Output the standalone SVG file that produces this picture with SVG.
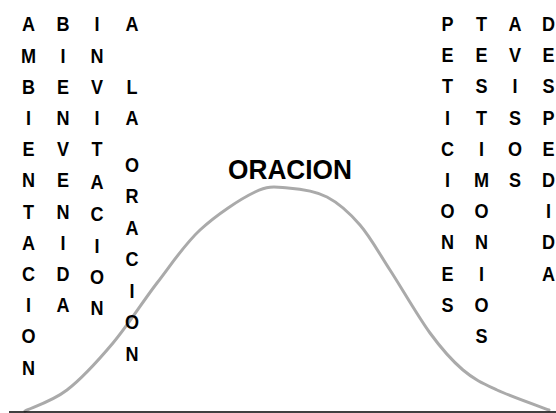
<svg xmlns="http://www.w3.org/2000/svg" width="556" height="413" viewBox="0 0 556 413">
<style>
.w{font-family:"Liberation Sans",Arial,sans-serif;font-weight:bold;font-size:21px;fill:#000;text-anchor:middle}
.t{font-family:"Liberation Sans",Arial,sans-serif;font-weight:bold;font-size:28.5px;fill:#000}
.curve{fill:none;stroke:#aaaaaa;stroke-width:3;stroke-linecap:round}
.base{stroke:#000;stroke-width:1.5}
</style>
<rect width="556" height="413" fill="#fff"/>
<g id="connectors">
<path class="curve" d="M25,411 C32,407.5 52.3,401.3 67,390 C81.7,378.7 98,360.8 113,343 C128,325.2 142.5,301.8 157,283 C171.5,264.2 183.7,245.2 200,230 C216.3,214.8 240.3,199 255,192 C269.7,185 276,187.2 288,188 C300,188.8 315,190.8 327,197 C339,203.2 349.5,212.8 360,225 C370.5,237.2 378.3,252 390,270 C401.7,288 417.8,316.3 430,333 C442.2,349.7 451.8,360.5 463,370 C474.2,379.5 482.7,383.3 497,390 C511.3,396.7 540.3,406.7 549,410"/>
<line class="base" x1="9" y1="412" x2="556" y2="412"/>
</g>
<g id="ambientacion"><text class="w" transform="translate(28.5,0) scale(0.86,1)"><tspan x="0" y="31.5">A</tspan><tspan x="0" y="62.7">M</tspan><tspan x="0" y="93.9">B</tspan><tspan x="0" y="125.1">I</tspan><tspan x="0" y="156.3">E</tspan><tspan x="0" y="187.5">N</tspan><tspan x="0" y="218.7">T</tspan><tspan x="0" y="249.9">A</tspan><tspan x="0" y="281.1">C</tspan><tspan x="0" y="312.3">I</tspan><tspan x="0" y="343.5">O</tspan><tspan x="0" y="374.7">N</tspan></text></g>
<g id="bienvenida"><text class="w" transform="translate(63,0) scale(0.86,1)"><tspan x="0" y="31.5">B</tspan><tspan x="0" y="62.7">I</tspan><tspan x="0" y="93.9">E</tspan><tspan x="0" y="125.1">N</tspan><tspan x="0" y="156.3">V</tspan><tspan x="0" y="187.5">E</tspan><tspan x="0" y="218.7">N</tspan><tspan x="0" y="249.9">I</tspan><tspan x="0" y="281.1">D</tspan><tspan x="0" y="312.3">A</tspan></text></g>
<g id="invitacion"><text class="w" transform="translate(97,0) scale(0.86,1)"><tspan x="0" y="31.5">I</tspan><tspan x="0" y="62.7">N</tspan><tspan x="0" y="93.9">V</tspan><tspan x="0" y="125.1">I</tspan><tspan x="0" y="156.3">T</tspan><tspan x="0" y="189">A</tspan><tspan x="0" y="221">C</tspan><tspan x="0" y="253">I</tspan><tspan x="0" y="284.5">O</tspan><tspan x="0" y="315">N</tspan></text></g>
<g id="a-la-oracion"><text class="w" transform="translate(132,0) scale(0.86,1)"><tspan x="0" y="31.5">A</tspan><tspan x="0" y="93.9">L</tspan><tspan x="0" y="125.1">A</tspan><tspan x="0" y="172">O</tspan><tspan x="0" y="203.5">R</tspan><tspan x="0" y="235">A</tspan><tspan x="0" y="266.5">C</tspan><tspan x="0" y="298">I</tspan><tspan x="0" y="329.5">O</tspan><tspan x="0" y="361">N</tspan></text></g>
<g id="oracion"><text class="t" x="228" y="178.5" textLength="124" lengthAdjust="spacingAndGlyphs">ORACION</text></g>
<g id="peticiones"><text class="w" transform="translate(447.5,0) scale(0.86,1)"><tspan x="0" y="31">P</tspan><tspan x="0" y="62.2">E</tspan><tspan x="0" y="93.4">T</tspan><tspan x="0" y="124.6">I</tspan><tspan x="0" y="155.8">C</tspan><tspan x="0" y="187">I</tspan><tspan x="0" y="218.2">O</tspan><tspan x="0" y="249.4">N</tspan><tspan x="0" y="280.6">E</tspan><tspan x="0" y="311.8">S</tspan></text></g>
<g id="testimonios"><text class="w" transform="translate(481.5,0) scale(0.86,1)"><tspan x="0" y="31">T</tspan><tspan x="0" y="62.2">E</tspan><tspan x="0" y="93.4">S</tspan><tspan x="0" y="124.6">T</tspan><tspan x="0" y="155.8">I</tspan><tspan x="0" y="187">M</tspan><tspan x="0" y="218.2">O</tspan><tspan x="0" y="249.4">N</tspan><tspan x="0" y="280.6">I</tspan><tspan x="0" y="311.8">O</tspan><tspan x="0" y="343">S</tspan></text></g>
<g id="avisos"><text class="w" transform="translate(515,0) scale(0.86,1)"><tspan x="0" y="31">A</tspan><tspan x="0" y="62.2">V</tspan><tspan x="0" y="93.4">I</tspan><tspan x="0" y="124.6">S</tspan><tspan x="0" y="155.8">O</tspan><tspan x="0" y="187">S</tspan></text></g>
<g id="despedida"><text class="w" transform="translate(548.5,0) scale(0.86,1)"><tspan x="0" y="31">D</tspan><tspan x="0" y="62.2">E</tspan><tspan x="0" y="93.4">S</tspan><tspan x="0" y="124.6">P</tspan><tspan x="0" y="155.8">E</tspan><tspan x="0" y="187">D</tspan><tspan x="0" y="218.2">I</tspan><tspan x="0" y="249.4">D</tspan><tspan x="0" y="280.6">A</tspan></text></g>
</svg>
